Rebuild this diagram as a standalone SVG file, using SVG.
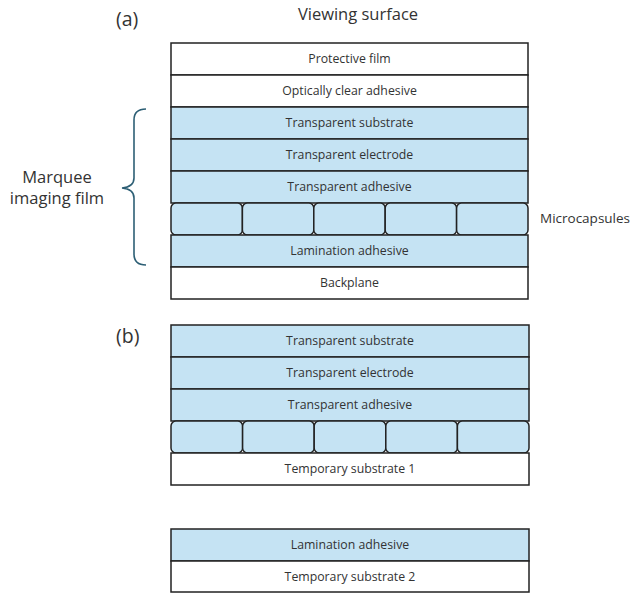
<svg xmlns="http://www.w3.org/2000/svg" width="634" height="594" viewBox="0 0 634 594">
<style>
.w{fill:#ffffff;stroke:#222;stroke-width:1.5}
.b{fill:#c5e3f3;stroke:#222;stroke-width:1.5}
.c{fill:#c5e3f3;stroke:#222;stroke-width:1.5}
.t{font-family:"Open Sans","Liberation Sans",Arial,sans-serif;font-size:12.3px;fill:#333;text-anchor:middle}
.l{font-family:"Open Sans","Liberation Sans",Arial,sans-serif;fill:#333}
</style>
<rect width="634" height="594" fill="#ffffff"/>
<text class="l" x="116" y="26" font-size="19.5">(a)</text>
<text class="l" x="358" y="20" font-size="16.5" text-anchor="middle">Viewing surface</text>
<text class="l" x="116" y="343" font-size="19.5">(b)</text>
<g id="brace">
<path d="M146,109 Q134,109 134,120 L134,178 Q134,187 122,188 Q134,189 134,198 L134,254 Q134,265 146,265" fill="none" stroke="#2d5f75" stroke-width="1.6"/>
<text class="l" x="57" y="183" font-size="16.5" text-anchor="middle">Marquee</text>
<text class="l" x="57" y="204" font-size="16.5" text-anchor="middle">imaging film</text>
</g>
<g id="a-protective"><rect class="w" x="171" y="43" width="357" height="32"/><text class="t" x="349.5" y="63">Protective film</text></g>
<g id="a-oca"><rect class="w" x="171" y="75" width="357" height="32"/><text class="t" x="349.5" y="95">Optically clear adhesive</text></g>
<g id="a-substrate"><rect class="b" x="171" y="107" width="357" height="32"/><text class="t" x="349.5" y="127">Transparent substrate</text></g>
<g id="a-electrode"><rect class="b" x="171" y="139" width="357" height="32"/><text class="t" x="349.5" y="159">Transparent electrode</text></g>
<g id="a-adhesive"><rect class="b" x="171" y="171" width="357" height="32"/><text class="t" x="349.5" y="191">Transparent adhesive</text></g>
<g id="a-microcapsules">
<rect class="c" x="171" y="203" width="71.4" height="32" rx="5"/>
<rect class="c" x="242.4" y="203" width="71.4" height="32" rx="5"/>
<rect class="c" x="313.8" y="203" width="71.4" height="32" rx="5"/>
<rect class="c" x="385.2" y="203" width="71.4" height="32" rx="5"/>
<rect class="c" x="456.6" y="203" width="71.4" height="32" rx="5"/>
<text class="l" x="540" y="223" font-size="13.5">Microcapsules</text>
</g>
<g id="a-lamination"><rect class="b" x="171" y="235" width="357" height="32"/><text class="t" x="349.5" y="255">Lamination adhesive</text></g>
<g id="a-backplane"><rect class="w" x="171" y="267" width="357" height="32"/><text class="t" x="349.5" y="287">Backplane</text></g>
<g id="b-substrate"><rect class="b" x="171" y="325" width="358" height="32"/><text class="t" x="350" y="345">Transparent substrate</text></g>
<g id="b-electrode"><rect class="b" x="171" y="357" width="358" height="32"/><text class="t" x="350" y="377">Transparent electrode</text></g>
<g id="b-adhesive"><rect class="b" x="171" y="389" width="358" height="32"/><text class="t" x="350" y="409">Transparent adhesive</text></g>
<g id="b-microcapsules">
<rect class="c" x="171" y="421" width="71.6" height="32" rx="5"/>
<rect class="c" x="242.6" y="421" width="71.6" height="32" rx="5"/>
<rect class="c" x="314.2" y="421" width="71.6" height="32" rx="5"/>
<rect class="c" x="385.8" y="421" width="71.6" height="32" rx="5"/>
<rect class="c" x="457.4" y="421" width="71.6" height="32" rx="5"/>
</g>
<g id="b-temp1"><rect class="w" x="171" y="453" width="358" height="32"/><text class="t" x="350" y="473">Temporary substrate 1</text></g>
<g id="c-lamination"><rect class="b" x="171" y="529" width="358" height="32"/><text class="t" x="350" y="549">Lamination adhesive</text></g>
<g id="c-temp2"><rect class="w" x="171" y="561" width="358" height="31"/><text class="t" x="350" y="581">Temporary substrate 2</text></g>
<g id="connectors"></g>
</svg>
